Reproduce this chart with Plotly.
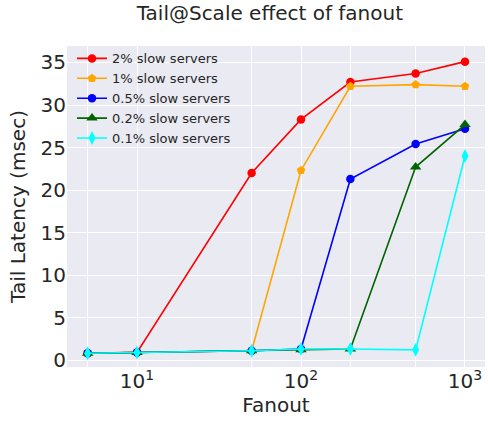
import plotly.graph_objects as go

fanout = [5, 10, 50, 100, 200, 500, 1000]
labels = ["2% slow servers", "1% slow servers", "0.5% slow servers", "0.2% slow servers", "0.1% slow servers"]
lat_2 = [0.8, 0.9, 22.0, 28.3, 32.7, 33.7, 35.1]
lat_1 = [0.8, 0.9, 1.1, 22.3, 32.2, 32.4, 32.2]
lat_05 = [0.8, 0.9, 1.1, 1.3, 21.3, 25.4, 27.2]
lat_02 = [0.8, 0.9, 1.1, 1.2, 1.3, 22.7, 27.7]
lat_01 = [0.8, 0.9, 1.1, 1.3, 1.3, 1.2, 24.0]
series = [lat_2, lat_1, lat_05, lat_02, lat_01]
colors = ["red", "orange", "blue", "darkgreen", "cyan"]
symbols = ["circle", "pentagon", "circle", "triangle-up", "diamond-tall"]
sizes = [8.5, 9, 8.5, 10, 10]

x_tickvals = [5, 10, 50, 100, 200, 500, 1000]
x_ticktext = ["", "10<sup>1</sup>", "", "10<sup>2</sup>", "", "", "10<sup>3</sup>"]
y_tickvals = [0, 5, 10, 15, 20, 25, 30, 35]

fig = go.Figure()
for name, ys, c, s, sz in zip(labels, series, colors, symbols, sizes):
    fig.add_trace(go.Scatter(
        x=fanout, y=ys, name=name, mode="lines+markers",
        line=dict(color=c, width=1.6),
        marker=dict(color=c, symbol=s, size=sz),
    ))

fig.update_layout(
    width=488, height=424,
    margin=dict(l=67, r=3, t=46, b=57, autoexpand=False),
    paper_bgcolor="white",
    plot_bgcolor="#EAEAF2",
    font=dict(family="DejaVu Sans", color="#262626"),
    title=dict(text="Tail@Scale effect of fanout", x=0.553, xanchor="center",
               y=0.969, yanchor="middle", font=dict(size=20, color="#262626")),
    showlegend=True,
    legend=dict(x=0.012, y=1.008, xanchor="left", yanchor="top",
                bgcolor="rgba(0,0,0,0)", font=dict(size=13, color="#262626"),
                tracegroupgap=0, itemwidth=30),
    xaxis=dict(type="log", range=[0.573, 3.122], tickvals=x_tickvals, ticktext=x_ticktext,
               showgrid=True, gridcolor="white", gridwidth=1, zeroline=False,
               ticks="", tickfont=dict(size=20, color="#262626"), automargin=False,
               title=dict(text="Fanout", font=dict(size=20, color="#262626"), standoff=2),
               showline=False),
    yaxis=dict(range=[-0.82, 36.94], tickvals=y_tickvals,
               showgrid=True, gridcolor="white", gridwidth=1, zeroline=False,
               ticks="", tickfont=dict(size=20, color="#262626"), automargin=False,
               title=dict(text="Tail Latency (msec)", font=dict(size=20, color="#262626"), standoff=9),
               showline=False),
)

fig.write_html("out.html", config={"displayModeBar": False},
               post_script="document.body.style.margin='0';")
